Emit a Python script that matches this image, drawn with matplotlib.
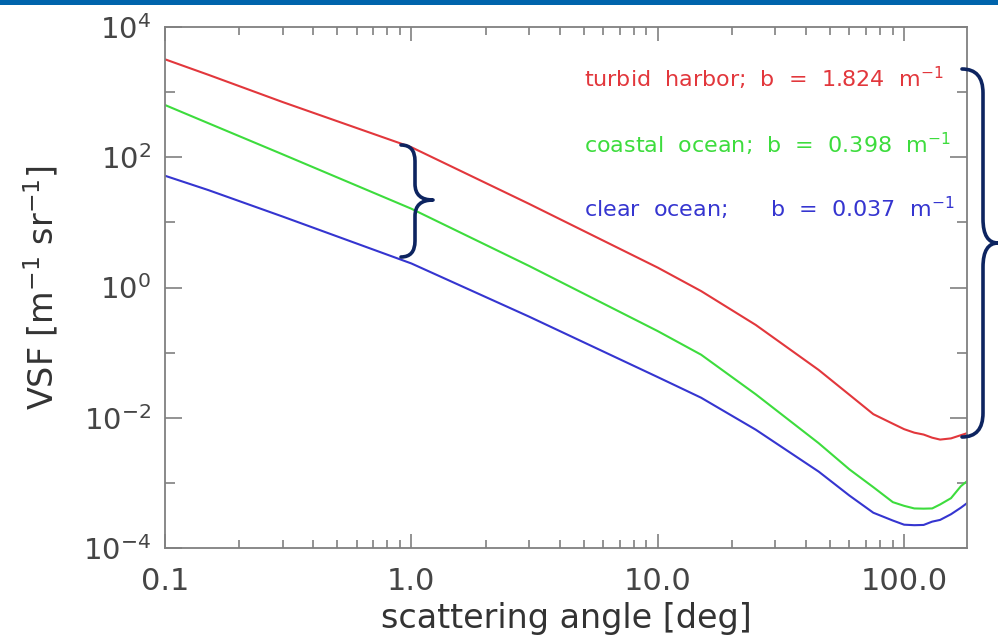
import matplotlib
matplotlib.use("Agg")
import matplotlib.pyplot as plt
from matplotlib.path import Path
from matplotlib.patches import PathPatch, Rectangle
from matplotlib.ticker import FixedLocator, LogLocator, NullFormatter, FixedFormatter

# ---- data ----
angles = [0.1, 0.15, 0.3, 1, 3, 10, 15, 25, 45, 60, 75, 90, 100, 110, 120, 130, 140, 155, 170, 180]
vsf_harbor = [3192, 1845, 705, 142.6, 19.3, 2.02, 0.881, 0.266, 0.0542, 0.0225, 0.01135, 0.0081,
              0.00668, 0.0059, 0.00552, 0.00494, 0.00462, 0.00482, 0.0054, 0.00579]
vsf_coastal = [634, 333, 111, 16.2, 2.15, 0.214, 0.0929, 0.0229, 0.00407, 0.00161, 0.000859, 0.000506,
               0.000444, 0.000405, 0.000402, 0.000405, 0.000466, 0.000582, 0.00089, 0.00106]
vsf_clear = [52.0, 31.3, 12.3, 2.34, 0.358, 0.0421, 0.0203, 0.00655, 0.00149, 0.000638, 0.000348, 0.000264,
             0.000228, 0.000224, 0.000226, 0.000254, 0.000270, 0.000330, 0.000416, 0.000488]
labels = [r"turbid  harbor;  b  =  1.824  m$^{-1}$",
          r"coastal  ocean;  b  =  0.398  m$^{-1}$",
          r"clear  ocean;      b  =  0.037  m$^{-1}$"]
xtick_vals = [0.1, 1.0, 10.0, 100.0]
xtick_labels = ["0.1", "1.0", "10.0", "100.0"]
ytick_vals = [1e-4, 1e-2, 1e0, 1e2, 1e4]
ytick_labels = [r"$10^{-4}$", r"$10^{-2}$", r"$10^{0}$", r"$10^{2}$", r"$10^{4}$"]

plt.rcParams['font.family'] = ['DejaVu Sans']
plt.rcParams['mathtext.fontset'] = 'dejavusans'

W, H = 998, 643
fig = plt.figure(figsize=(W / 100, H / 100), dpi=100)
ax = fig.add_axes([165 / W, 1 - 548 / H, (967 - 165) / W, (548 - 27) / H])

red, green, blue = '#e2373c', '#3ddc3d', '#3535d0'
ax.plot(angles, vsf_harbor, color=red, lw=1.5)
ax.plot(angles, vsf_coastal, color=green, lw=1.5)
ax.plot(angles, vsf_clear, color=blue, lw=1.5)

ax.set_xscale('log')
ax.set_yscale('log')
ax.set_xlim(0.1, 180)
ax.set_ylim(1e-4, 1e4)

gray = '#808080'
for s in ax.spines.values():
    s.set_color(gray)
    s.set_linewidth(1.3)

ax.xaxis.set_major_locator(FixedLocator(xtick_vals))
ax.xaxis.set_major_formatter(FixedFormatter(xtick_labels))
ax.xaxis.set_minor_locator(LogLocator(base=10, subs=range(2, 10), numticks=20))
ax.xaxis.set_minor_formatter(NullFormatter())
ax.yaxis.set_major_locator(FixedLocator(ytick_vals))
ax.yaxis.set_major_formatter(FixedFormatter(ytick_labels))
ax.yaxis.set_minor_locator(FixedLocator([1e-3, 1e-1, 1e1, 1e3]))
ax.yaxis.set_minor_formatter(NullFormatter())

ax.tick_params(which='both', direction='in', top=True, right=True, color=gray, width=1.2,
               labelcolor='#454545')
ax.tick_params(axis='x', which='major', length=10, pad=14, labelsize=22)
ax.tick_params(axis='x', which='minor', length=6)
ax.tick_params(axis='y', which='major', length=12, pad=10, labelsize=21)
ax.tick_params(axis='y', which='minor', length=7)

ax.set_xlabel("scattering angle [deg]", fontsize=24, color='#333333', labelpad=4)
ax.set_ylabel(r"VSF [m$^{-1}$ sr$^{-1}$]", fontsize=24, color='#333333', labelpad=16)

# annotations
for txt, c, yf in zip(labels, [red, green, blue], [0.902, 0.775, 0.652]):
    ax.text(0.5225, yf, txt, transform=ax.transAxes, color=c, fontsize=16,
            ha='left', va='center')

# top band
fig.add_artist(Rectangle((0, 1 - 5 / H), 1, 5 / H, transform=fig.transFigure,
                         facecolor='#0064ac', edgecolor='none'))

# braces (decorations, pixel coords -> figure fraction)
def brace(x_end, x_stem, x_tip, y_top, y_bot, y_mid, r):
    pts = [(x_end, y_top), (x_stem, y_top), (x_stem, y_top + r),
           (x_stem, y_mid - r), (x_stem, y_mid), (x_tip, y_mid),
           (x_stem, y_mid), (x_stem, y_mid + r),
           (x_stem, y_bot - r), (x_stem, y_bot), (x_end, y_bot)]
    codes = [Path.MOVETO, Path.CURVE3, Path.CURVE3,
             Path.LINETO, Path.CURVE3, Path.CURVE3,
             Path.CURVE3, Path.CURVE3,
             Path.LINETO, Path.CURVE3, Path.CURVE3]
    verts = [(x / W, 1 - y / H) for x, y in pts]
    p = PathPatch(Path(verts, codes), transform=fig.transFigure, fill=False,
                  edgecolor='#0d2460', lw=2.6, capstyle='round', joinstyle='round')
    p.set_clip_on(False)
    fig.add_artist(p)

brace(401, 415, 433, 145, 257, 200, 16)
brace(962, 983, 998, 69, 437, 243, 24)

fig.savefig("out.png", dpi=100)
